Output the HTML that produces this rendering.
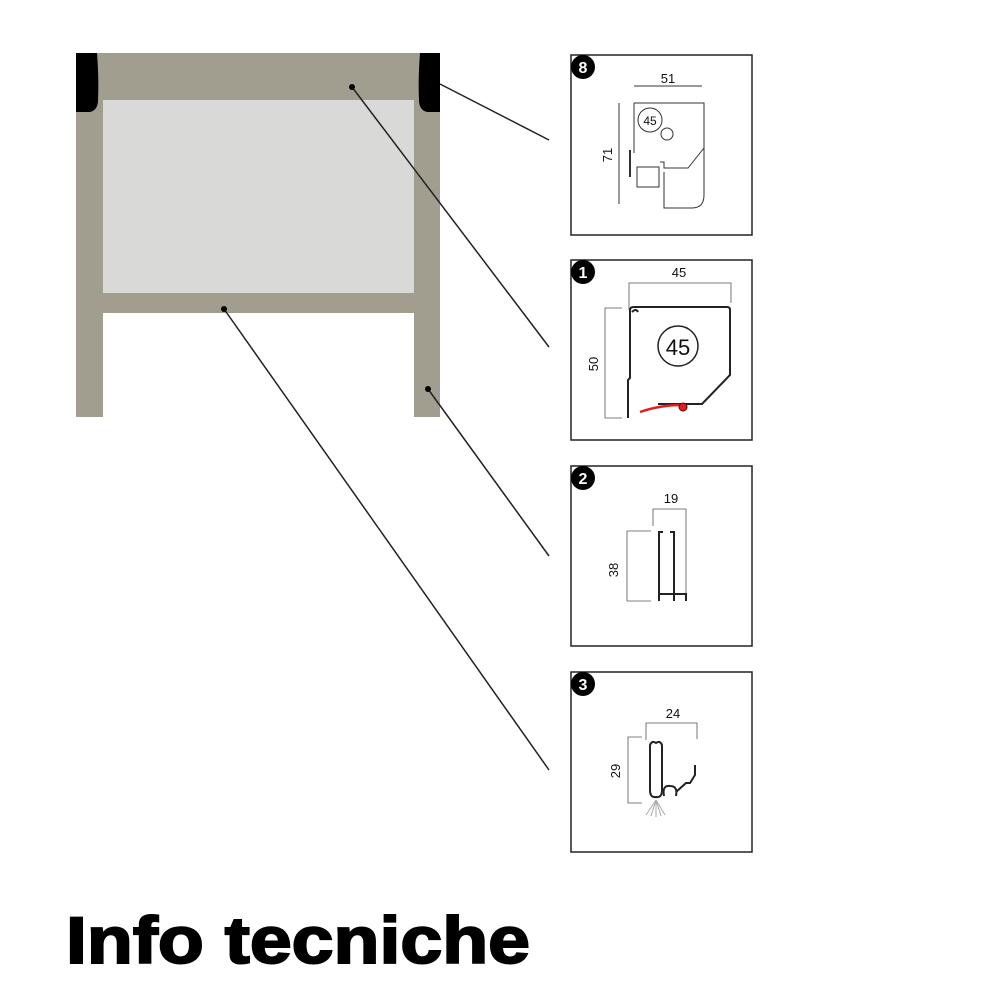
<!DOCTYPE html>
<html><head><meta charset="utf-8"><style>
html,body{margin:0;padding:0;background:#fff;width:1000px;height:1000px;overflow:hidden}
</style></head><body>
<svg width="1000" height="1000" viewBox="0 0 1000 1000" xmlns="http://www.w3.org/2000/svg" font-family="Liberation Sans, sans-serif">
<!-- frame -->
<rect x="76" y="53" width="364" height="47" fill="#a19e90"/>
<rect x="76" y="53" width="27" height="364" fill="#a19e90"/>
<rect x="414" y="53" width="26" height="364" fill="#a19e90"/>
<rect x="103" y="100" width="311" height="193" fill="#d9d9d8"/>
<rect x="103" y="293" width="311" height="20" fill="#a19e90"/>
<path d="M76 53 H97 Q99 80 98 100 Q98 110 90 112 H76 Z" fill="#000"/>
<path d="M440 53 H420 Q418 80 419 100 Q419 110 427 112 H440 Z" fill="#000"/>
<!-- leaders -->
<g stroke="#222" stroke-width="1.5" fill="none">
<line x1="440" y1="84" x2="549" y2="140"/>
<line x1="352" y1="87" x2="549" y2="347"/>
<line x1="428" y1="389" x2="549" y2="556"/>
<line x1="224" y1="309" x2="549" y2="770"/>
</g>
<g fill="#000"><circle cx="352" cy="87" r="3"/><circle cx="428" cy="389" r="3"/><circle cx="224" cy="309" r="3"/></g>
<!-- boxes -->
<g fill="none" stroke="#222" stroke-width="1.5">
<rect x="571" y="55" width="181" height="180"/>
<rect x="571" y="260" width="181" height="180"/>
<rect x="571" y="466" width="181" height="180"/>
<rect x="571" y="672" width="181" height="180"/>
</g>
<g fill="#000"><circle cx="583" cy="67" r="12"/><circle cx="583" cy="272" r="12"/><circle cx="583" cy="478" r="12"/><circle cx="583" cy="684" r="12"/></g>
<g fill="#fff" font-weight="bold" font-size="16" text-anchor="middle">
<text x="583" y="73">8</text><text x="583" y="278">1</text><text x="583" y="484">2</text><text x="583" y="690">3</text></g>
<!-- box 8 -->
<g stroke="#333" stroke-width="1" fill="none">
<line x1="634" y1="86" x2="702" y2="86"/>
<line x1="619" y1="103" x2="619" y2="204"/>
<path d="M634 103 V153 M634 103 H704 V148 L688 168 H664 V162 H660"/>
<path d="M664 172 V208 H692 Q704 208 704 195 V148" />
<rect x="637" y="167" width="22" height="20"/>
<circle cx="650" cy="120" r="12"/><circle cx="667" cy="134" r="6"/>
<line x1="630" y1="150" x2="630" y2="177" stroke-width="2"/>
</g>
<text x="668" y="83" font-size="13" text-anchor="middle" fill="#111">51</text>
<text x="650" y="125" font-size="12" text-anchor="middle" fill="#111">45</text>
<text x="612" y="155" font-size="13" text-anchor="middle" fill="#111" transform="rotate(-90 612 155)">71</text>
<!-- box 1 -->
<g stroke="#555" stroke-width="0.8" fill="none">
<path d="M629 310 V283 H731 V303"/>
<path d="M622 308 H605 V418 H622"/>
</g>
<g stroke="#222" stroke-width="2" fill="none">
<path d="M628 418 V380 L630 378 V310 Q630 307 634 307 H727 Q730 307 730 310 V375 L702 404 H658"/>
<path d="M632 312 Q636 308 638 312"/>
</g>
<path d="M640 412 Q660 405 682 405" stroke="#e02020" stroke-width="2.5" fill="none"/>
<circle cx="683" cy="407" r="4" fill="#e02020" stroke="#600" stroke-width="1"/>
<circle cx="678" cy="346" r="20" fill="none" stroke="#222" stroke-width="1.5"/>
<text x="678" y="355" font-size="22" text-anchor="middle" fill="#111">45</text>
<text x="679" y="277" font-size="13" text-anchor="middle" fill="#111">45</text>
<text x="598" y="364" font-size="13" text-anchor="middle" fill="#111" transform="rotate(-90 598 364)">50</text>
<!-- box 2 -->
<g stroke="#555" stroke-width="0.8" fill="none">
<path d="M653 526 V509 H686 V594"/>
<path d="M651 531 H627 V601 H651"/>
</g>
<g stroke="#222" stroke-width="2" fill="none">
<path d="M659 601 V532 H663 M670 532 H674 V601 M659 594 H686 V601"/>
</g>
<text x="671" y="503" font-size="13" text-anchor="middle" fill="#111">19</text>
<text x="618" y="570" font-size="13" text-anchor="middle" fill="#111" transform="rotate(-90 618 570)">38</text>
<!-- box 3 -->
<g stroke="#555" stroke-width="0.8" fill="none">
<path d="M646 740 V723 H697 V739"/>
<path d="M642 737 H628 V803 H642"/>
</g>
<g stroke="#222" stroke-width="2" fill="none">
<path d="M650 790 V745 Q652 740 656 743 Q660 740 662 745 V790"/>
<path d="M650 790 Q650 798 656 797 Q662 798 662 790"/>
<path d="M664 796 Q662 785 670 786 Q678 786 676 796 M676 792 L686 783 H690 L695 775 V765"/>
</g>
<g stroke="#aaa" stroke-width="1"><line x1="656" y1="800" x2="646" y2="815"/><line x1="656" y1="800" x2="651" y2="816"/><line x1="656" y1="800" x2="656" y2="817"/><line x1="656" y1="800" x2="661" y2="816"/><line x1="656" y1="800" x2="665" y2="815"/></g>
<text x="673" y="718" font-size="13" text-anchor="middle" fill="#111">24</text>
<text x="620" y="771" font-size="13" text-anchor="middle" fill="#111" transform="rotate(-90 620 771)">29</text>
<!-- title -->
<text x="66" y="963" font-size="66" font-weight="bold" fill="#000" stroke="#000" stroke-width="2" textLength="464" lengthAdjust="spacingAndGlyphs">Info tecniche</text>
</svg>
</body></html>
